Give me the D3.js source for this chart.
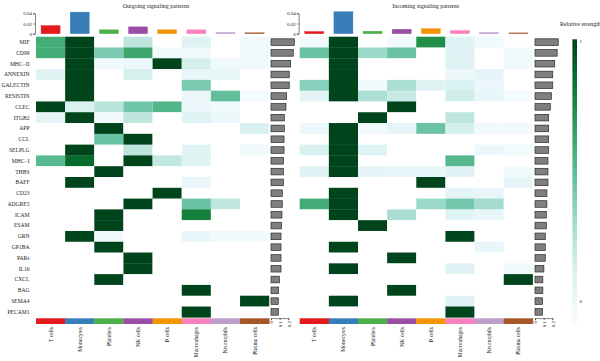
<!DOCTYPE html>
<html>
<head>
<meta charset="utf-8">
<script src="https://cdn.jsdelivr.net/npm/d3@7"></script>
<style>
  body { margin: 0; background: #fff; }
  svg text { font-family: "Liberation Serif", "DejaVu Serif", serif; fill: #222; }
</style>
</head>
<body>
<div id="chart"></div>
<script>
// data
const pathways = ["MIF", "CD99", "MHC\u2212II", "ANNEXIN", "GALECTIN", "RESISTIN", "CLEC", "ITGB2", "APP", "CCL",
  "SELPLG", "MHC\u2212I", "THBS", "BAFF", "CD23", "ADGRE5", "ICAM", "ESAM", "GRN", "GP1BA", "PARs", "IL16",
  "CXCL", "BAG", "SEMA4", "PECAM1"];
const cellTypes = ["T cells", "Monocytes", "Platelets", "NK cells", "B cells", "Macrophages", "Neutrophils", "Plasma cells"];
const cellColors = ["#E41A1C", "#377EB8", "#4DAF4A", "#984EA3", "#F29403", "#F781BF", "#BC9DCC", "#A65628"];

// relative strength, rows = pathways, cols = cell types
const outgoing = [
  [0.62, 1, 0, 0.28, 0, 0.15, 0, 0.05],
  [0.62, 1, 0.45, 0.65, 0.05, 0.05, 0, 0.05],
  [0, 1, 0.05, 0.08, 1, 0.2, 0.05, 0.05],
  [0.15, 1, 0, 0.2, 0, 0.1, 0.1, 0],
  [0, 1, 0, 0, 0, 0.45, 0, 0],
  [0, 1, 0, 0, 0, 0.08, 0.52, 0.04],
  [1, 0.18, 0.3, 0.48, 0.57, 0.08, 0.05, 0],
  [0.12, 1, 0.05, 0.28, 0, 0.15, 0.08, 0],
  [0, 0, 1, 0, 0, 0, 0, 0.18],
  [0, 0, 0.5, 1, 0, 0, 0, 0],
  [0, 1, 0, 0.28, 0, 0.15, 0, 0.05],
  [0.55, 0.88, 0, 1, 0.27, 0.15, 0, 0],
  [0, 0, 1, 0, 0, 0, 0, 0],
  [0, 1, 0, 0, 0, 0.1, 0, 0],
  [0, 0, 0, 0, 1, 0, 0, 0],
  [0, 0, 0, 1, 0, 0.5, 0.28, 0],
  [0, 0, 1, 0, 0, 0.8, 0, 0],
  [0, 0, 1, 0, 0, 0, 0, 0],
  [0, 1, 0.05, 0, 0, 0.1, 0.05, 0.05],
  [0, 0, 1, 0, 0, 0, 0, 0],
  [0, 0, 0, 1, 0, 0, 0, 0],
  [0, 0, 0, 1, 0, 0, 0, 0],
  [0, 0, 1, 0, 0, 0, 0, 0],
  [0, 0, 0, 0, 0, 1, 0, 0],
  [0, 0, 0, 0, 0, 0, 0, 1],
  [0, 0, 0, 0, 0, 1, 0, 0]
];
const incoming = [
  [0.05, 1, 0, 0.05, 0.75, 0.15, 0.05, 0],
  [0.5, 1, 0.37, 0.5, 0, 0.15, 0, 0.05],
  [0, 1, 0, 0, 0, 0.15, 0, 0.05],
  [0, 1, 0, 0, 0, 0.08, 0.12, 0],
  [0.42, 1, 0.05, 0.33, 0.15, 0.18, 0.08, 0],
  [0.12, 1, 0.33, 0.25, 0, 0.22, 0.1, 0.04],
  [0, 0, 0, 1, 0, 0, 0, 0],
  [0, 0, 1, 0, 0, 0.28, 0, 0],
  [0.08, 1, 0.05, 0.12, 0.5, 0.2, 0.05, 0.05],
  [0, 1, 0, 0, 0, 0, 0, 0],
  [0.18, 1, 0.15, 0, 0, 0, 0.08, 0.04],
  [0, 1, 0, 0, 0, 0.56, 0, 0],
  [0.15, 1, 0.12, 0.1, 0.1, 0.15, 0, 0.05],
  [0, 0, 0, 0, 1, 0, 0, 0.12],
  [0, 1, 0, 0, 0, 0.12, 0.1, 0],
  [0.62, 1, 0, 0, 0.37, 0.47, 0.35, 0],
  [0, 1, 0, 0.33, 0, 0.15, 0.1, 0],
  [0, 0, 1, 0, 0, 0, 0, 0],
  [0, 0, 0, 0, 0, 1, 0, 0],
  [0, 1, 0, 0, 0, 0, 0.1, 0],
  [0, 0, 0, 1, 0, 0, 0, 0],
  [0, 1, 0, 0, 0, 0.15, 0, 0.05],
  [0, 0, 0, 0, 0, 0, 0, 1],
  [0, 0, 0, 1, 0, 0, 0, 0],
  [0, 1, 0, 0, 0, 0.15, 0, 0],
  [0, 0, 0, 0, 0, 1, 0, 0]
];

// column totals (top bars) and row totals (right bars)
const outgoingCellTotals = [0.0149, 0.0413, 0.0066, 0.0124, 0.0066, 0.0066, 0.0014, 0.0008];
const incomingCellTotals = [0.0033, 0.042, 0.0039, 0.0077, 0.009, 0.0052, 0.0014, 0.0006];
const outgoingPathTotals = [0.268, 0.256, 0.226, 0.21, 0.21, 0.18, 0.172, 0.153, 0.153, 0.15, 0.15, 0.142, 0.142,
  0.142, 0.13, 0.13, 0.126, 0.119, 0.115, 0.115, 0.115, 0.115, 0.096, 0.088, 0.084, 0.084];
const incomingPathTotals = [0.267, 0.255, 0.227, 0.204, 0.204, 0.188, 0.176, 0.157, 0.157, 0.157, 0.157, 0.149, 0.149,
  0.149, 0.137, 0.137, 0.13, 0.13, 0.118, 0.118, 0.118, 0.102, 0.09, 0.09, 0.086, 0.086];
const topTicks = [0, 0.02, 0.04];
const sideTicks = [0, 0.1, 0.2];

const W = 600, H = 361;
const heatTop = 36.7, heatBottom = 317.3;

const svg = d3.select('#chart').append('svg')
  .attr('width', W).attr('height', H);

const y = d3.scaleBand().domain(pathways).range([heatTop, heatBottom]);
const color = v => v === 0 ? "#ffffff" : d3.interpolateBuGn(v);

function drawPanel(opts) {
  let g = svg.append('g');
  let x = d3.scaleBand().domain(cellTypes).range([opts.x0, opts.x0 + 8 * 29.15]);

  // title
  g.append('text').attr('x', opts.titleX).attr('y', 8)
    .attr('text-anchor', 'middle').style('font-size', '6px')
    .text(opts.title);

  // heatmap cells
  opts.matrix.forEach(function(row, i) {
    g.selectAll(null).data(row).enter().append('rect')
      .attr('x', (d, j) => x(cellTypes[j]))
      .attr('y', y(pathways[i]))
      .attr('width', x.bandwidth())
      .attr('height', y.bandwidth() + 0.3)
      .attr('fill', d => color(d));
  });

  // row labels only on the left panel
  if (opts.rowLabels) {
    g.selectAll('.rowlab').data(pathways).enter().append('text')
      .attr('x', 29.5).attr('y', d => y(d) + y.bandwidth() / 2 + 1.9)
      .attr('text-anchor', 'end').style('font-size', '5.6px')
      .text(d => d);
  }

  // top bar annotation
  let yTop = d3.scaleLinear().domain([0, 0.04]).range([33.7, 13.3]);
  g.selectAll('.topbar').data(opts.cellTotals).enter().append('rect')
    .attr('x', (d, j) => x(cellTypes[j]) + x.bandwidth() / 2 - 9.5)
    .attr('y', d => yTop(d) - 0.5)
    .attr('width', 19)
    .attr('height', d => yTop(0) - yTop(d) + 0.5)
    .attr('fill', (d, j) => cellColors[j])
    .attr('stroke', (d, j) => cellColors[j]).attr('stroke-width', 0.4);

  let topAxis = g.append('g').attr('transform', 'translate(' + (opts.x0 - 1) + ',0)')
    .call(d3.axisLeft(yTop).tickValues(topTicks).tickSize(2).tickPadding(1).tickFormat(d => d === 0 ? "0" : d3.format(".2f")(d)));
  topAxis.select('.domain').attr('stroke', '#333').attr('stroke-width', 0.6);
  topAxis.selectAll('.tick line').attr('stroke', '#333').attr('stroke-width', 0.6);
  topAxis.selectAll('text').style('font-size', '5px').attr('font-family', 'Liberation Serif').attr('fill', '#333');

  // bottom colour strip + column names
  g.selectAll('.strip').data(cellTypes).enter().append('rect')
    .attr('x', d => x(d)).attr('y', 318.3)
    .attr('width', x.bandwidth() + 0.3).attr('height', 5.7)
    .attr('fill', (d, j) => cellColors[j]);

  g.selectAll('.collab').data(cellTypes).enter().append('text')
    .attr('transform', d => 'translate(' + (x(d) + x.bandwidth() / 2 + 2) + ',327) rotate(-90)')
    .attr('text-anchor', 'end').style('font-size', '5.6px')
    .text(d => d);

  // right bar annotation
  let xSide = d3.scaleLinear().domain([0, 0.2]).range([opts.sideX, opts.sideX + 17.4]);
  g.selectAll('.sidebar').data(opts.pathTotals).enter().append('rect')
    .attr('x', xSide(0))
    .attr('y', (d, i) => y(pathways[i]) + y.bandwidth() / 2 - 3.3)
    .attr('width', d => xSide(d) - xSide(0))
    .attr('height', 6.6)
    .attr('fill', '#7f7f7f').attr('stroke', '#2b2b2b').attr('stroke-width', 0.7);

  let sideAxis = g.append('g').attr('transform', 'translate(0,' + (heatBottom + 0.8) + ')')
    .call(d3.axisBottom(xSide).tickValues(sideTicks).tickSize(2).tickPadding(1).tickFormat(d3.format("")));
  sideAxis.select('.domain').attr('stroke', '#333').attr('stroke-width', 0.6);
  sideAxis.selectAll('.tick line').attr('stroke', '#333').attr('stroke-width', 0.6);
  sideAxis.selectAll('text')
    .attr('y', 0).attr('dy', 0)
    .attr('transform', 'translate(1.8,3) rotate(-90)')
    .attr('text-anchor', 'end')
    .style('font-size', '5px').attr('font-family', 'Liberation Serif').attr('fill', '#333');
}

drawPanel({ x0: 36, titleX: 156, title: "Outgoing signaling patterns", matrix: outgoing,
  cellTotals: outgoingCellTotals, pathTotals: outgoingPathTotals, sideX: 271, rowLabels: true });
drawPanel({ x0: 299.7, titleX: 425.7, title: "Incoming signaling patterns", matrix: incoming,
  cellTotals: incomingCellTotals, pathTotals: incomingPathTotals, sideX: 535, rowLabels: false });

// legend
let defs = svg.append('defs');
let grad = defs.append('linearGradient').attr('id', 'lg')
  .attr('x1', 0).attr('y1', 1).attr('x2', 0).attr('y2', 0);
d3.range(0, 1.0001, 0.1).forEach(function(t) {
  grad.append('stop').attr('offset', t).attr('stop-color', d3.interpolateBuGn(t));
});
svg.append('rect').attr('x', 572.4).attr('y', 39.3).attr('width', 4.6).attr('height', 283.7)
  .attr('fill', 'url(#lg)');
svg.append('text').attr('x', 560).attr('y', 26).style('font-size', '6px').text("Relative strength");
svg.append('text').attr('x', 579.5).attr('y', 43).style('font-size', '5px').text("1");
svg.append('text').attr('x', 579.5).attr('y', 302.5).style('font-size', '5px').text("0");
</script>
</body>
</html>
